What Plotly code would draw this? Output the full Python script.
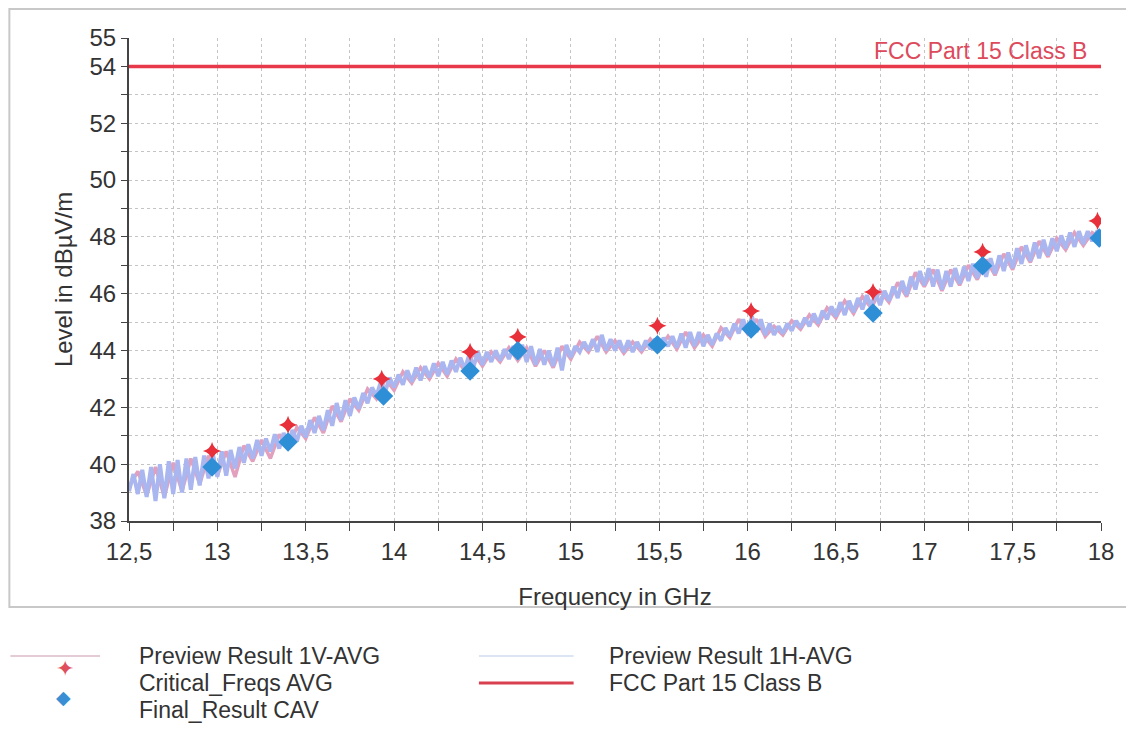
import plotly.graph_objects as go

# ── Data ─────────────────────────────────────────────────────────────────────

# Preview Result 1H-AVG, sampled every 0.025 GHz from 12.5 to 18 GHz
h_start, h_step = 12.5, 0.025
h_avg = [
    39.05, 39.65, 38.95, 39.8, 38.85, 39.9, 38.7, 40.0, 38.8, 40.1,
    38.95, 40.15, 39.0, 40.2, 39.1, 40.25, 39.25, 40.3, 39.5, 40.35,
    39.55, 40.45, 39.6, 40.5, 39.85, 40.6, 40.05, 40.7, 40.2, 40.85,
    40.3, 40.9, 40.45, 41.05, 40.55, 41.1, 40.65, 41.2, 40.8, 41.35,
    40.95, 41.55, 41.1, 41.7, 41.2, 41.9, 41.35, 42.15, 41.55, 42.25,
    41.7, 42.35, 41.95, 42.5, 42.15, 42.7, 42.4, 42.9, 42.55, 43.05,
    42.7, 43.15, 42.8, 43.3, 42.9, 43.4, 42.95, 43.45, 43.05, 43.55,
    43.1, 43.6, 43.15, 43.65, 43.25, 43.75, 43.35, 43.85, 43.45, 43.95,
    43.5, 43.95, 43.6, 44.0, 43.65, 44.05, 43.7, 44.15, 43.7, 44.2,
    43.6, 44.15, 43.5, 44.05, 43.5, 44.0, 43.45, 44.1, 43.3, 44.2,
    43.75, 44.15, 43.95, 44.3, 44.0, 44.4, 43.95, 44.55, 44.0, 44.4,
    44.0, 44.35, 43.95, 44.35, 43.95, 44.3, 44.0, 44.35, 44.05, 44.4,
    44.1, 44.45, 44.15, 44.5, 44.1, 44.6, 44.1, 44.65, 44.15, 44.65,
    44.15, 44.55, 44.2, 44.6, 44.35, 44.8, 44.5, 44.95, 44.6, 45.1,
    44.65, 45.2, 44.65, 45.1, 44.55, 44.95, 44.55, 44.85, 44.6, 44.95,
    44.7, 45.05, 44.8, 45.15, 44.85, 45.3, 44.95, 45.4, 45.1, 45.55,
    45.2, 45.7, 45.25, 45.75, 45.35, 45.85, 45.45, 45.95, 45.55, 46.05,
    45.6, 46.1, 45.75, 46.25, 45.85, 46.45, 45.95, 46.6, 46.15, 46.8,
    46.3, 46.9, 46.25, 46.85, 46.15, 46.8, 46.25, 46.9, 46.35, 46.95,
    46.45, 47.05, 46.55, 47.15, 46.6, 47.25, 46.7, 47.35, 46.8, 47.45,
    46.9, 47.6, 47.05, 47.7, 47.15, 47.8, 47.25, 47.9, 47.35, 47.95,
    47.5, 48.05, 47.6, 48.15, 47.65, 48.2, 47.75, 48.2, 47.85, 48.15,
    48.0,
]

# Preview Result 1V-AVG, sampled every 0.05 GHz from 12.5 to 18 GHz
v_start, v_step = 12.5, 0.05
v_avg = [
    39.2, 39.75, 38.9, 39.9, 38.85, 40.05, 39.05, 40.2, 39.3, 40.3,
    39.6, 40.45, 39.55, 40.65, 40.1, 40.85, 40.2, 41.05, 40.55, 41.3,
    40.9, 41.65, 41.1, 42.05, 41.5, 42.3, 41.9, 42.65, 42.3, 43.0,
    42.6, 43.25, 42.85, 43.4, 43.0, 43.55, 43.1, 43.7, 43.3, 43.9,
    43.45, 43.95, 43.6, 44.1, 43.65, 44.1, 43.45, 44.0, 43.4, 44.15,
    43.7, 44.3, 43.95, 44.5, 43.95, 44.35, 43.9, 44.3, 43.95, 44.4,
    44.05, 44.5, 44.05, 44.65, 44.1, 44.55, 44.15, 44.8, 44.45, 45.1,
    44.6, 45.1, 44.5, 44.85, 44.55, 45.05, 44.75, 45.25, 44.9, 45.5,
    45.15, 45.75, 45.3, 45.9, 45.5, 46.1, 45.7, 46.4, 45.9, 46.75,
    46.25, 46.85, 46.1, 46.85, 46.3, 47.0, 46.5, 47.2, 46.65, 47.4,
    46.85, 47.65, 47.1, 47.85, 47.3, 47.95, 47.55, 48.15, 47.7, 48.15,
    47.95,
]

# Critical_Freqs AVG and Final_Result CAV
crit_freq = [12.97, 13.40, 13.93, 14.43, 14.70, 15.49, 16.02, 16.71, 17.33, 17.98]
crit_level = [40.46, 41.38, 43.0, 43.95, 44.48, 44.87, 45.39, 46.06, 47.47, 48.56]
final_freq = [12.97, 13.40, 13.94, 14.43, 14.70, 15.49, 16.02, 16.71, 17.33, 17.99]
final_level = [39.9, 40.78, 42.4, 43.28, 43.99, 44.2, 44.76, 45.32, 46.98, 47.96]

# FCC Part 15 Class B limit
limit_freq = [12.5, 18.0]
limit_level = [54, 54]

x_ticks = [12.5, 13, 13.5, 14, 14.5, 15, 15.5, 16, 16.5, 17, 17.5, 18]
x_tick_text = ["12,5", "13", "13,5", "14", "14,5", "15", "15,5", "16", "16,5", "17", "17,5", "18"]
y_ticks = [38, 40, 42, 44, 46, 48, 50, 52, 54, 55]

h_freq = [round(h_start + i * h_step, 3) for i in range(len(h_avg))]
v_freq = [round(v_start + i * v_step, 3) for i in range(len(v_avg))]

FONT = "Liberation Sans, Arial, sans-serif"
TEXT = "#333333"

# page pixels -> paper fractions (plot area spans x 129..1104, y 38..521 on the page)
def px(x):
    return (x - 129) / 975


def py(y):
    return (521 - y) / 483


# ── Figure ───────────────────────────────────────────────────────────────────

fig = go.Figure()
fig.add_trace(go.Scatter(x=v_freq, y=v_avg, mode="lines", name="Preview Result 1V-AVG",
                         line=dict(color="#e2a0bd", width=3.5)))
fig.add_trace(go.Scatter(x=h_freq, y=h_avg, mode="lines", name="Preview Result 1H-AVG",
                         line=dict(color="#a9b6ef", width=4)))
fig.add_trace(go.Scatter(x=crit_freq, y=crit_level, mode="markers", name="Critical_Freqs AVG",
                         marker=dict(symbol="star-diamond", size=13, color="#e8303a")))
fig.add_trace(go.Scatter(x=limit_freq, y=limit_level, mode="lines", name="FCC Part 15 Class B",
                         line=dict(color="#e8394a", width=3.5)))
fig.add_trace(go.Scatter(x=final_freq, y=final_level, mode="markers", name="Final_Result CAV",
                         marker=dict(symbol="diamond", size=15, color="#2f8fd6")))

fig.add_annotation(x=17.93, y=54, xref="x", yref="y", xanchor="right", yanchor="bottom",
                   yshift=0, text="FCC Part 15 Class B", showarrow=False,
                   font=dict(family=FONT, size=23, color="#dc4a5c"))

# outer frame round the chart: left, top and bottom sides, the right one is off the page
frame = "M {r},{b} L {l},{b} L {l},{t} L {r},{t}".format(l=px(9), r=px(1200), b=py(607), t=py(9))
fig.add_shape(type="path", xref="paper", yref="paper", path=frame,
              line=dict(color="#c8c8c8", width=2), layer="below")

# legend below the frame, two columns like the original
legend_rows = [656, 683, 710]
legend_text = [
    ("Preview Result 1V-AVG", 137, legend_rows[0]),
    ("Preview Result 1H-AVG", 608, legend_rows[0]),
    ("Critical_Freqs AVG", 137, legend_rows[1]),
    ("FCC Part 15 Class B", 608, legend_rows[1]),
    ("Final_Result CAV", 137, legend_rows[2]),
]
for label, lx, ly in legend_text:
    fig.add_annotation(x=px(lx), y=py(ly), xref="paper", yref="paper", xanchor="left",
                       yanchor="middle", text=label, showarrow=False,
                       font=dict(family=FONT, size=23, color=TEXT))
legend_lines = [
    (10, 100, legend_rows[0], "#c99aad", 1.2),
    (480, 575, legend_rows[0], "#b9cbe9", 1.2),
    (480, 575, legend_rows[1], "#d9404f", 3),
]
for x0, x1, ly, col, w in legend_lines:
    fig.add_shape(type="line", xref="paper", yref="paper", x0=px(x0), x1=px(x1),
                  y0=py(ly), y1=py(ly), line=dict(color=col, width=w))
fig.add_annotation(x=px(54), y=py(legend_rows[1]), xref="paper", yref="paper", text="✦",
                   showarrow=False, font=dict(family="DejaVu Sans", size=22, color="#e0505c"))
fig.add_annotation(x=px(54), y=py(legend_rows[2]), xref="paper", yref="paper", text="◆",
                   showarrow=False, font=dict(family="DejaVu Sans", size=19, color="#3a8fd4"))

grid = dict(showgrid=True, gridcolor="#c4c4c4", griddash="dot", gridwidth=1)
fig.update_xaxes(range=[12.5, 18], tickvals=x_ticks, ticktext=x_tick_text,
                 ticks="outside", ticklen=8, tickcolor="#444", showline=True,
                 linecolor="#444", linewidth=2, zeroline=False,
                 tickfont=dict(family=FONT, size=24, color=TEXT),
                 title=dict(text="Frequency in GHz", font=dict(family=FONT, size=24, color=TEXT),
                            standoff=24),
                 minor=dict(dtick=0.25, ticks="outside", ticklen=8, tickcolor="#444", **grid),
                 **grid)
fig.update_yaxes(range=[38, 55], tickvals=y_ticks, ticks="outside", ticklen=6, tickcolor="#444",
                 showline=True, linecolor="#444", linewidth=2, zeroline=False,
                 tickfont=dict(family=FONT, size=24, color=TEXT),
                 title=dict(text="Level in dBµV/m", font=dict(family=FONT, size=24, color=TEXT),
                            standoff=10),
                 minor=dict(dtick=1, ticks="outside", ticklen=6, tickcolor="#444", **grid),
                 **grid)

# the page body adds 8 px on the left and top, so the figure is a little smaller
fig.update_layout(
    width=1118, height=715,
    margin=dict(l=121, r=22, t=30, b=202),
    paper_bgcolor="white", plot_bgcolor="white",
    font=dict(family=FONT, color=TEXT),
    showlegend=False,
)

fig.write_html("out.html")
